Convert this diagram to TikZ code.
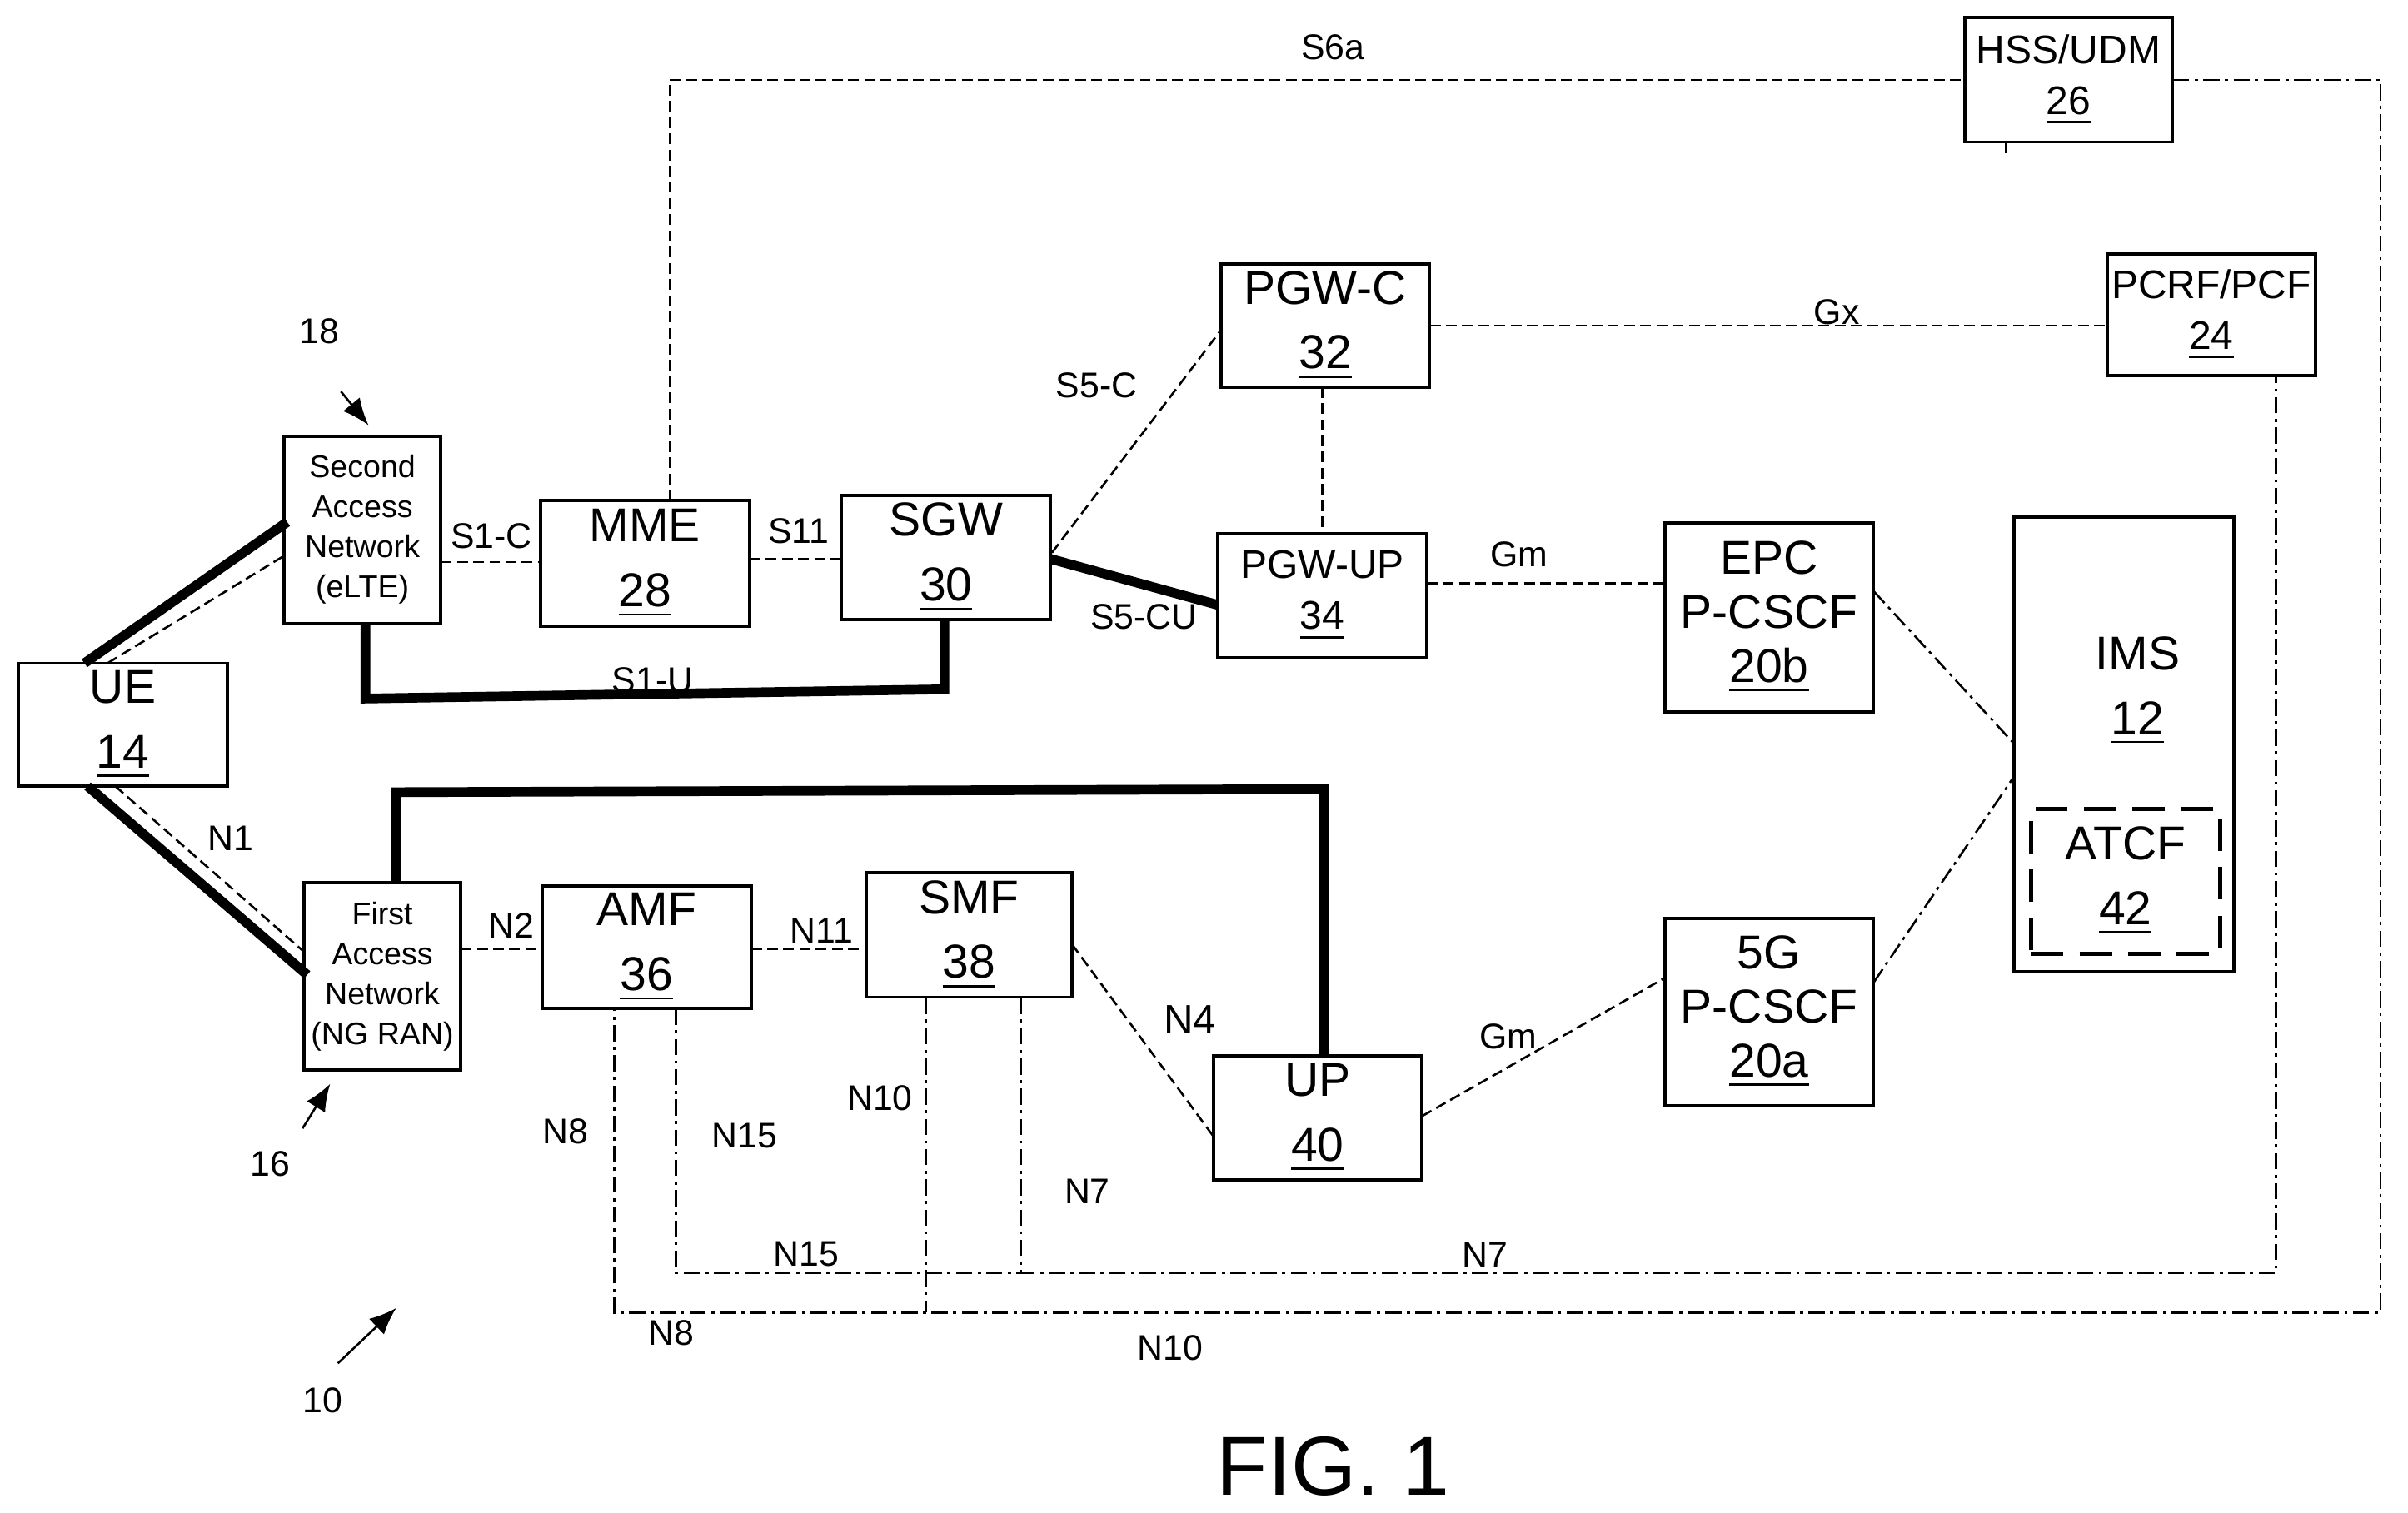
\documentclass[tikz,border=0pt]{standalone}
\usepackage{fontspec}
\usetikzlibrary{arrows.meta}
\setmainfont{Liberation Sans}
\begin{document}
\begin{tikzpicture}[x=0.01cm,y=-0.01cm,
  bx/.style={draw,line width=0.6pt,inner sep=0pt,align=center,font=\fontsize{8.8}{10}\selectfont},
  sm/.style={draw,line width=0.6pt,inner sep=0pt,align=center,font=\fontsize{5.8}{7.4}\selectfont},
  lb/.style={font=\fontsize{6.6}{8}\selectfont},
  dl/.style={densely dashed,line width=0.4pt,dash pattern=on 2pt off 1pt},
  dd/.style={line width=0.4pt,dash pattern=on 3pt off 1pt on 0.6pt off 1pt},
  thk/.style={line width=1.8pt},
  ref/.style={-{Latex[length=5pt,width=4pt]},line width=0.4pt}]
\useasboundingbox[fill=white] (0,0) rectangle (1568,985);
\newcommand{\bxn}[6]{\node[#1,minimum width=#4*0.01cm,minimum height=#5*0.01cm] (#2) at (#3) {#6};}
\bxn{bx}{ue}{80,472}{136}{80}{UE\\[2pt]\underline{14}}
\bxn{sm}{san}{236,345}{102}{122}{Second\\Access\\Network\\(eLTE)}
\bxn{bx}{mme}{420,367}{136}{82}{MME\\[2pt]\underline{28}}
\bxn{bx}{sgw}{616,363}{136}{81}{SGW\\[2pt]\underline{30}}
\bxn{bx}{pgwc}{863,212}{136}{80}{PGW-C\\[2pt]\underline{32}}
\bxn{sm}{pgwu}{861,388}{136}{81}{\fontsize{7.4}{9}\selectfont PGW-UP\\[2pt]\fontsize{7.4}{9}\selectfont\underline{34}}
\bxn{sm}{hss}{1347,52}{135}{81}{\fontsize{7.4}{9}\selectfont HSS/UDM\\[2pt]\fontsize{7.4}{9}\selectfont\underline{26}}
\bxn{sm}{pcrf}{1440,205}{136}{79}{\fontsize{7.4}{9}\selectfont PCRF/PCF\\[2pt]\fontsize{7.4}{9}\selectfont\underline{24}}
\bxn{bx}{epc}{1152,402}{136}{123}{EPC\\P-CSCF\\\underline{20b}}
\bxn{bx}{ims}{1383,485}{143}{296}{}
\node[font=\fontsize{8.8}{10}\selectfont,align=center] (imst) at (1392,450) {IMS\\[2pt]\underline{12}};
\node[draw,dashed,dash pattern=on 6pt off 3pt,line width=0.8pt,minimum width=1.23cm,minimum height=0.79cm,align=center,font=\fontsize{8.8}{10}\selectfont] (atcf) at (1384,574) {ATCF\\[2pt]\underline{42}};
\bxn{bx}{g5}{1152,659}{136}{122}{5G\\P-CSCF\\\underline{20a}}
\bxn{sm}{fan}{249,636}{102}{122}{First\\Access\\Network\\(NG RAN)}
\bxn{bx}{amf}{421,617}{136}{80}{AMF\\[2pt]\underline{36}}
\bxn{bx}{smf}{631,609}{134}{81}{SMF\\[2pt]\underline{38}}
\bxn{bx}{up}{858,728}{136}{81}{UP\\[2pt]\underline{40}}
% thick lines
\draw[thk] (55,432) -- (187,340);
\draw[dl] (70,432) -- (185,362);
\draw[thk] (57,512) -- (200,635);
\draw[dl] (75,512) -- (198,620);
\draw[thk] (238,406) -- (238,455) -- (615,449) -- (615,404);
\draw[thk] (258,575) -- (258,516) -- (862,514) -- (862,688);
\draw[thk] (684,364) -- (793,394);
% dashed
\draw[dl] (287,366) -- (352,366);
\draw[dl] (488,364) -- (548,364);
\draw[dl] (685,360) -- (795,215);
\draw[dl] (861,252) -- (861,348);
\draw[dl] (931,212) -- (1372,212);
\draw[dl] (929,380) -- (1084,380);
\draw[dl] (300,618) -- (353,618);
\draw[dl] (489,618) -- (564,618);
\draw[dl] (698,615) -- (790,740);
\draw[dl] (926,727) -- (1084,637);
\draw[dd] (1220,385) -- (1312,485);
\draw[dd] (1220,640) -- (1312,505);
\draw[dl] (436,326) -- (436,52) -- (1280,52);
\draw[dl] (1306,93) -- (1306,100);
\draw[dd] (1415,52) -- (1550,52) -- (1550,855) -- (400,855) -- (400,657);
\draw[dd] (603,650) -- (603,855);
\draw[dd] (440,657) -- (440,829) -- (665,829);
\draw[dd] (665,650) -- (665,829) -- (1482,829) -- (1482,245);
% labels
\begin{scope}[lb]
\node at (868,31) {S6a};
\node at (1196,203) {Gx};
\node at (714,251) {S5-C};
\node at (745,402) {S5-CU};
\node at (989,361) {Gm};
\node at (982,675) {Gm};
\node at (320,349) {S1-C};
\node at (520,346) {S11};
\node at (425,443) {S1-U};
\node at (150,546) {N1};
\node at (333,603) {N2};
\node at (535,606) {N11};
\node[font=\fontsize{7.6}{9}\selectfont] at (775,664) {N4};
\node at (368,737) {N8};
\node at (485,740) {N15};
\node at (573,715) {N10};
\node at (708,776) {N7};
\node at (525,817) {N15};
\node at (967,817) {N7};
\node at (437,868) {N8};
\node at (762,878) {N10};
\node at (208,216) {18};
\node at (176,758) {16};
\node at (210,912) {10};
\end{scope}
\draw[ref] (222,255) -- (240,277);
\draw[ref] (197,735) -- (215,706);
\draw[ref] (220,888) -- (258,852);
\node[font=\fontsize{15.5}{18}\selectfont] (fig) at (868,955) {FIG. 1};
\end{tikzpicture}
\end{document}
